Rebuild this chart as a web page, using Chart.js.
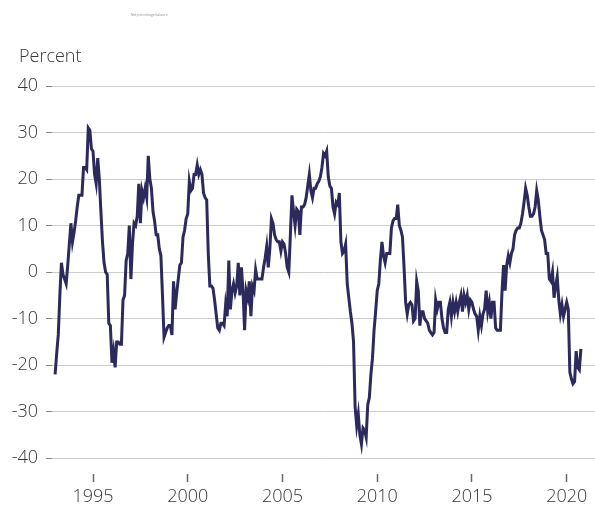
<!DOCTYPE html>
<html>
<head>
<meta charset="utf-8">
<script src="https://cdn.jsdelivr.net/npm/chart.js@4"></script>
<style>
  html, body { margin: 0; padding: 0; background: #fff; }
  #wrap { width: 595px; height: 515px; position: relative; }
</style>
</head>
<body>
<div id="wrap"><canvas id="c" width="595" height="515"></canvas></div>
<script>
// Monthly series, Jan 1993 .. Oct 2020 (percent)
const startYear = 1993;
const values = [
  -22, -17.5, -13.5, -5, 2, -0.5, -1.5, -2.5, 1.5, 6,
  10.5, 6.5, 8.5, 11, 14, 16.5, 16.5, 16.5, 22.5, 22.5,
  22, 31, 30.5, 26.5, 26, 21, 19, 24.5, 20, 13,
  6.5, 2, 0, -0.5, -11, -11.5, -19.5, -17, -20.5, -15,
  -15, -15.5, -15.5, -6, -5, 2.5, 4, 10, -1.5, 6,
  10.5, 10, 12, 19, 10.5, 17.5, 16, 18, 16, 25,
  20, 18, 13, 11, 8, 8, 5, 3.5, -5, -14,
  -13, -12, -11.5, -11.5, -13.5, -2, -8, -4.5, -1.5, 1.5,
  2, 7.5, 9, 11.5, 12.5, 19.5, 17.5, 18, 21, 21,
  23, 21, 22, 21, 17, 16, 15.5, 4, -3, -3,
  -3.5, -6, -9, -12, -12.5, -11, -11, -11.5, -7, -9.5,
  2.5, -8, -4, -2.5, -4.5, -3, 2, -5, 1, -4,
  -12.5, -4, -5.5, -2, -9.5, -3, -4, 0.5, -1.5, -1.5,
  -1.5, -1.5, 1, 3, 5.5, 1, 5, 11.5, 10.5, 8,
  7, 6.5, 6.5, 4.5, 6.5, 6, 4, 1, 0, 8,
  16.5, 13, 10, 13.5, 13, 8, 14, 14, 14.5, 16,
  18.5, 21, 17.5, 16, 18, 18, 19, 19.5, 20.5, 22.5,
  25.5, 25, 26, 20.5, 18.5, 18, 14, 12.5, 15, 14.5,
  17, 6.5, 4, 4.5, 6, -2.5, -5.5, -8.5, -11, -15,
  -29, -33, -30.5, -35, -37, -33.5, -34, -35.5, -28.5, -27,
  -22, -18.5, -12.5, -8.5, -4, -2.5, 2.5, 6.5, 3.5, 2,
  4, 4, 4, 9.5, 11, 11.5, 11.5, 14.5, 10, 9,
  7.5, 1, -6.5, -9, -7, -6.5, -7, -10.5, -10, -2,
  -4, -11.5, -8.5, -8.5, -10, -10.5, -11, -12.5, -13, -13.5,
  -13, -6, -8, -6.5, -6.5, -10, -12, -13, -13, -8,
  -6.5, -9.5, -6.5, -8.5, -6.5, -8.5, -6.5, -5, -8.5, -5,
  -6.5, -5, -8, -6, -6.5, -8, -9, -9.5, -12.5, -9.5,
  -11.5, -9, -8, -4, -8.5, -6.5, -10, -6.5, -6.5, -12,
  -12.5, -12.5, -12.5, -4.5, 1.5, -4, 1.5, 3.5, 2, 4,
  5, 8, 9, 9.5, 9.5, 10.5, 12.5, 15, 18, 16.5,
  14, 12, 12, 12.5, 14, 17.5, 15.5, 12, 9, 8,
  7, 4, 4, -1.5, -2, 0, -5.5, -3, -1, -6,
  -9, -7, -9.5, -8, -6.5, -8, -21.5, -23, -24, -23.5,
  -17, -20.5, -21, -16.5
];
const xTickYears = [1995, 2000, 2005, 2010, 2015, 2020];
const yTickValues = [-40, -30, -20, -10, 0, 10, 20, 30, 40];
const yAxisTitle = 'Percent';
const seriesLabel = 'Net percentage balance';

const points = values.map((v, i) => ({ x: startYear + i / 12, y: v }));

const FONT = "'Open Sans', 'Noto Sans', sans-serif";
const TEXT = '#383838';

const textPlugin = {
  id: 'texts',
  afterDraw(chart) {
    const ctx = chart.ctx;
    ctx.save();
    ctx.fillStyle = TEXT;
    ctx.font = "300 18px " + FONT;
    ctx.textAlign = 'left';
    ctx.textBaseline = 'alphabetic';
    ctx.fillText(yAxisTitle, 19, 62);
    ctx.fillStyle = '#8a8a8a';
    ctx.font = "3.3px " + FONT;
    ctx.fillText(seriesLabel, 131, 15.5);
    ctx.restore();
  }
};

new Chart(document.getElementById('c'), {
  type: 'line',
  data: {
    datasets: [{
      label: seriesLabel,
      data: points,
      borderColor: '#2c295c',
      borderWidth: 3,
      pointRadius: 0,
      tension: 0,
      fill: false
    }]
  },
  options: {
    responsive: false,
    animation: false,
    layout: { padding: { top: 86, left: 0, right: 0, bottom: 0 } },
    plugins: {
      legend: { display: false },
      title: { display: false },
      tooltip: { enabled: false }
    },
    scales: {
      x: {
        type: 'linear',
        min: 1992.836,
        max: 2021.494,
        afterBuildTicks: (s) => { s.ticks = xTickYears.map(v => ({ value: v })); },
        afterFit: (s) => { s.height = 41; },
        border: { display: false },
        grid: {
          drawOnChartArea: false,
          drawTicks: true,
          tickLength: 8,
          tickColor: '#666666',
          tickWidth: 1.5
        },
        ticks: {
          autoSkip: false,
          maxRotation: 0,
          padding: 4,
          color: TEXT,
          font: { family: FONT, size: 18, weight: '300' },
          callback: (v) => String(v)
        }
      },
      y: {
        type: 'linear',
        min: -43.4,
        max: 40,
        afterBuildTicks: (s) => { s.ticks = yTickValues.map(v => ({ value: v })); },
        afterFit: (s) => { s.width = 52; },
        border: { display: false },
        grid: {
          color: '#cccccc',
          lineWidth: 1,
          drawTicks: true,
          tickLength: 6,
          tickColor: '#888888'
        },
        ticks: {
          padding: 8,
          color: TEXT,
          font: { family: FONT, size: 18, weight: '300' },
          callback: (v) => String(v)
        }
      }
    }
  },
  plugins: [textPlugin]
});
</script>
</body>
</html>
